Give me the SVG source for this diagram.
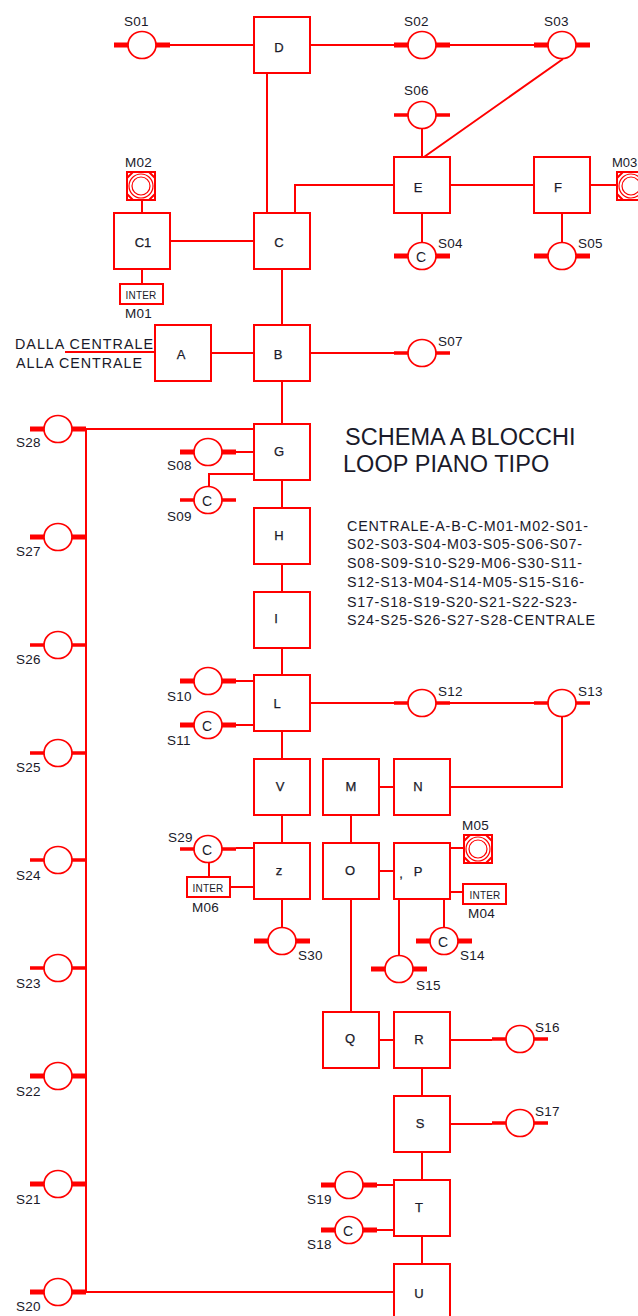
<svg xmlns="http://www.w3.org/2000/svg" xmlns:xlink="http://www.w3.org/1999/xlink" width="638" height="1316" viewBox="0 0 638 1316">
<style>
text{font-family:"Liberation Sans",Arial,sans-serif;fill:#1a1a2a}
.b{fill:#fff;stroke:#f00;stroke-width:2}
.l{fill:none;stroke:#f00;stroke-width:2}
.t{font-size:13px;text-anchor:middle;stroke:#1a1a2a;stroke-width:.25}
.s{font-size:13.5px;letter-spacing:.2px}
.i{font-size:10px;text-anchor:middle;letter-spacing:.2px}
.c{font-size:14px;text-anchor:middle}
.h{font-size:23.5px;letter-spacing:.05px}
.k{font-size:14.3px}
</style>
<defs>
<g id="sT"><path d="M-28 0H-13M13 0H28" stroke="#f00" stroke-width="5" fill="none"/><ellipse rx="14" ry="13.5" fill="#fff" stroke="#f00" stroke-width="1.7"/></g>
<g id="sN"><path d="M-28 0H-13M13 0H28" stroke="#f00" stroke-width="3.5" fill="none"/><ellipse rx="14" ry="13.5" fill="#fff" stroke="#f00" stroke-width="1.7"/></g>
<g id="m"><rect x="-14" y="-14" width="28" height="28" fill="#fff" stroke="#f00" stroke-width="2"/><path d="M-14 -8L-8 -14M14 -8L8 -14M-14 8L-8 14M14 8L8 14" stroke="#f00" stroke-width="2"/><circle r="12" fill="#fff" stroke="#f00" stroke-width="1.2"/><circle r="9" fill="#fff" stroke="#f00" stroke-width="1.2"/></g>
</defs>
<g id="connectors" class="l">
<path d="M170 45H254M310 45H394M450 45H534M267 73V213M295 213V185H394M450 185H534M590 185H617M422 157V129M424 157L563 59M422 213V242M562 213V242"/>
<path d="M170 241H254M142 213V200M142 269V284M282 269V325M211 353H254M65 352H155M310 353H394M282 381V424"/>
<path d="M86 429H254M86 429V1292M86 1292H394M236 452H254M254 474H209V487M282 480V508M282 564V592M282 648V675M282 731V759M282 815V843"/>
<path d="M236 681H254M236 725H254M310 703H394M450 703H534M562 717V787H450M379 787H394M351 815V843M379 871H394M351 899V1012M450 848H463M450 892H463M399 899V955M444 899V928"/>
<path d="M236 848H254M209 863V877M230 887H254M282 899V928M379 1040H394M450 1040H492M422 1068V1096M450 1124H492M422 1152V1180M422 1236V1264M377 1185H394M377 1230H394"/>
</g>
<g id="D"><rect class="b" x="254" y="17" width="56" height="56"/><text class="t" x="279" y="52">D</text></g>
<g id="C1"><rect class="b" x="114" y="213" width="56" height="56"/><text class="t" x="143" y="247">C1</text></g>
<g id="C"><rect class="b" x="254" y="213" width="56" height="56"/><text class="t" x="279" y="247">C</text></g>
<g id="A"><rect class="b" x="155" y="325" width="56" height="56"/><text class="t" x="181" y="359">A</text></g>
<g id="B"><rect class="b" x="254" y="325" width="56" height="56"/><text class="t" x="278" y="359">B</text></g>
<g id="E"><rect class="b" x="394" y="157" width="56" height="56"/><text class="t" x="418" y="192">E</text></g>
<g id="F"><rect class="b" x="534" y="157" width="56" height="56"/><text class="t" x="558" y="192">F</text></g>
<g id="G"><rect class="b" x="254" y="424" width="56" height="56"/><text class="t" x="279" y="456">G</text></g>
<g id="H"><rect class="b" x="254" y="508" width="56" height="56"/><text class="t" x="279" y="540">H</text></g>
<g id="I"><rect class="b" x="254" y="592" width="56" height="56"/><text class="t" x="276" y="623">I</text></g>
<g id="L"><rect class="b" x="254" y="675" width="56" height="56"/><text class="t" x="277" y="708">L</text></g>
<g id="V"><rect class="b" x="254" y="759" width="56" height="56"/><text class="t" x="280" y="791">V</text></g>
<g id="z"><rect class="b" x="254" y="843" width="56" height="56"/><text class="t" x="279" y="875">z</text></g>
<g id="M"><rect class="b" x="323" y="759" width="56" height="56"/><text class="t" x="351" y="791">M</text></g>
<g id="N"><rect class="b" x="394" y="759" width="56" height="56"/><text class="t" x="418" y="791">N</text></g>
<g id="O"><rect class="b" x="323" y="843" width="56" height="56"/><text class="t" x="350" y="875">O</text></g>
<g id="P"><rect class="b" x="394" y="843" width="56" height="56"/><text class="t" x="418" y="876">P</text><text class="t" x="401" y="878">,</text></g>
<g id="Q"><rect class="b" x="323" y="1012" width="56" height="56"/><text class="t" x="350" y="1043">Q</text></g>
<g id="R"><rect class="b" x="394" y="1012" width="56" height="56"/><text class="t" x="419" y="1044">R</text></g>
<g id="S"><rect class="b" x="394" y="1096" width="56" height="56"/><text class="t" x="420" y="1128">S</text></g>
<g id="T"><rect class="b" x="394" y="1180" width="56" height="56"/><text class="t" x="419" y="1212">T</text></g>
<g id="U"><rect class="b" x="394" y="1264" width="56" height="56"/><text class="t" x="419" y="1298">U</text></g>
<g id="nS01"><use href="#sT" x="142" y="45"/><text class="s" x="124" y="26">S01</text></g>
<g id="nS02"><use href="#sT" x="422" y="45"/><text class="s" x="404" y="26">S02</text></g>
<g id="nS03"><use href="#sT" x="562" y="45"/><text class="s" x="544" y="26">S03</text></g>
<g id="nS06"><use href="#sN" x="422" y="115"/><text class="s" x="404" y="95">S06</text></g>
<g id="nS04"><use href="#sT" x="422" y="256"/><text class="c" x="421" y="262">C</text><text class="s" x="438" y="248">S04</text></g>
<g id="nS05"><use href="#sT" x="562" y="256"/><text class="s" x="578" y="248">S05</text></g>
<g id="nS07"><use href="#sN" x="422" y="353"/><text class="s" x="438" y="346">S07</text></g>
<g id="nS28"><use href="#sT" x="58" y="429"/><text class="s" x="16" y="447">S28</text></g>
<g id="nS27"><use href="#sT" x="58" y="537"/><text class="s" x="16" y="556">S27</text></g>
<g id="nS26"><use href="#sN" x="58" y="645"/><text class="s" x="16" y="664">S26</text></g>
<g id="nS25"><use href="#sN" x="58" y="753"/><text class="s" x="16" y="772">S25</text></g>
<g id="nS24"><use href="#sN" x="58" y="860"/><text class="s" x="16" y="880">S24</text></g>
<g id="nS23"><use href="#sN" x="58" y="968"/><text class="s" x="16" y="988">S23</text></g>
<g id="nS22"><use href="#sT" x="58" y="1076"/><text class="s" x="16" y="1096">S22</text></g>
<g id="nS21"><use href="#sT" x="58" y="1184"/><text class="s" x="16" y="1204">S21</text></g>
<g id="nS20"><use href="#sT" x="58" y="1292"/><text class="s" x="16" y="1311">S20</text></g>
<g id="nS08"><use href="#sT" x="208" y="452"/><text class="s" x="167" y="470">S08</text></g>
<g id="nS09"><use href="#sN" x="208" y="500"/><text class="c" x="207" y="506">C</text><text class="s" x="167" y="521">S09</text></g>
<g id="nS10"><use href="#sT" x="208" y="681"/><text class="s" x="167" y="701">S10</text></g>
<g id="nS11"><use href="#sT" x="208" y="725"/><text class="c" x="207" y="731">C</text><text class="s" x="167" y="745">S11</text></g>
<g id="nS12"><use href="#sN" x="422" y="703"/><text class="s" x="438" y="696">S12</text></g>
<g id="nS13"><use href="#sN" x="562" y="703"/><text class="s" x="578" y="696">S13</text></g>
<g id="nS29"><use href="#sN" x="208" y="849"/><text class="c" x="207" y="855">C</text><text class="s" x="168" y="842">S29</text></g>
<g id="nS30"><use href="#sT" x="282" y="941"/><text class="s" x="298" y="960">S30</text></g>
<g id="nS14"><use href="#sT" x="444" y="941"/><text class="c" x="443" y="947">C</text><text class="s" x="460" y="960">S14</text></g>
<g id="nS15"><use href="#sT" x="399" y="969"/><text class="s" x="416" y="990">S15</text></g>
<g id="nS16"><use href="#sN" x="520" y="1039"/><text class="s" x="535" y="1032">S16</text></g>
<g id="nS17"><use href="#sN" x="520" y="1123"/><text class="s" x="535" y="1116">S17</text></g>
<g id="nS19"><use href="#sT" x="349" y="1185"/><text class="s" x="307" y="1204">S19</text></g>
<g id="nS18"><use href="#sT" x="349" y="1230"/><text class="c" x="348" y="1236">C</text><text class="s" x="307" y="1249">S18</text></g>
<g id="nM02"><use href="#m" x="141" y="186"/><text class="s" x="125" y="167">M02</text></g>
<g id="nM03"><use href="#m" x="631" y="186"/><text x="612" y="167" style="font-size:13px">M03</text></g>
<g id="nM05"><use href="#m" x="478" y="849"/><text class="s" x="462" y="830">M05</text></g>
<g id="nM01"><rect class="b" x="120" y="284" width="43" height="20"/><text class="i" x="141" y="299">INTER</text><text class="s" x="125" y="318">M01</text></g>
<g id="nM06"><rect class="b" x="187" y="877" width="43" height="20"/><text class="i" x="208" y="892">INTER</text><text class="s" x="192" y="912">M06</text></g>
<g id="nM04"><rect class="b" x="463" y="884" width="43" height="20"/><text class="i" x="485" y="899">INTER</text><text class="s" x="468" y="918">M04</text></g>
<g id="labels">
<text class="k" x="15" y="349" textLength="138" lengthAdjust="spacing">DALLA CENTRALE</text>
<text class="k" x="16" y="368" textLength="126" lengthAdjust="spacing">ALLA CENTRALE</text>
<text class="h" x="345" y="445">SCHEMA A BLOCCHI</text>
<text class="h" x="343" y="472">LOOP PIANO TIPO</text>
<text class="k" x="347" y="531" textLength="241" lengthAdjust="spacing">CENTRALE-A-B-C-M01-M02-S01-</text>
<text class="k" x="347" y="549" textLength="235" lengthAdjust="spacing">S02-S03-S04-M03-S05-S06-S07-</text>
<text class="k" x="347" y="568" textLength="235" lengthAdjust="spacing">S08-S09-S10-S29-M06-S30-S11-</text>
<text class="k" x="347" y="587" textLength="237" lengthAdjust="spacing">S12-S13-M04-S14-M05-S15-S16-</text>
<text class="k" x="347" y="607" textLength="230" lengthAdjust="spacing">S17-S18-S19-S20-S21-S22-S23-</text>
<text class="k" x="347" y="625" textLength="248" lengthAdjust="spacing">S24-S25-S26-S27-S28-CENTRALE</text>
</g>
</svg>
